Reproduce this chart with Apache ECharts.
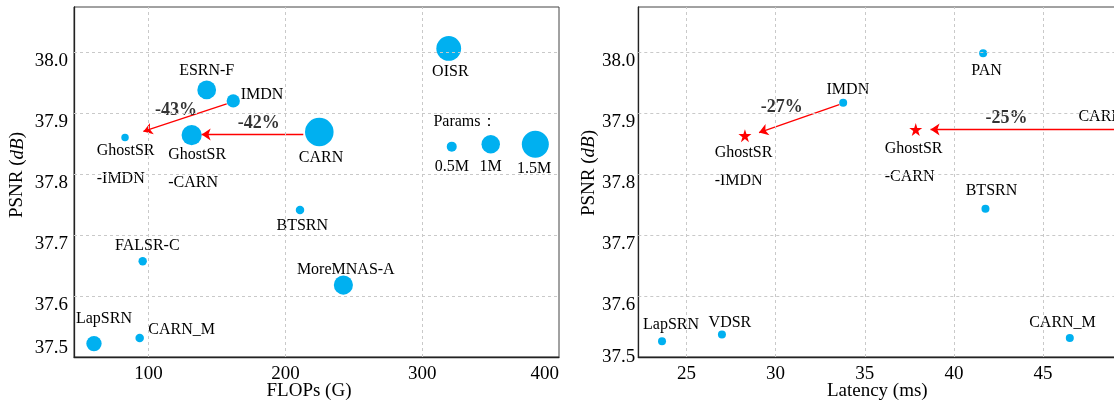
<!DOCTYPE html>
<html>
<head>
<meta charset="utf-8">
<script src="https://cdn.jsdelivr.net/npm/echarts@6/dist/echarts.min.js"></script>
<style>
html, body { margin: 0; padding: 0; background: #fff; }
#chart { width: 1114px; height: 402px; }
</style>
</head>
<body>
<div id="chart"></div>
<script>
// ---- Left panel: PSNR against FLOPs, bubble size = parameters (M) ----
const flopsNames = ['LapSRN', 'CARN_M', 'FALSR-C', 'BTSRN', 'MoreMNAS-A', 'CARN', 'IMDN', 'ESRN-F', 'OISR', 'GhostSR\n-IMDN', 'GhostSR\n-CARN'];
const flopsG = [60.1, 93.5, 95.7, 210.7, 242.4, 224.8, 161.9, 142.5, 319.4, 82.8, 131.5];
const flopsPsnr = [37.522, 37.531, 37.657, 37.741, 37.618, 37.869, 37.920, 37.938, 38.006, 37.860, 37.864];
const paramsM = [0.813, 0.412, 0.408, 0.410, 1.039, 1.592, 0.694, 1.014, 1.37, 0.35, 1.1];

// bubble-size key
const keyNames = ['0.5M', '1M', '1.5M'];
const keyParams = [0.5, 1, 1.5];
const keyFlops = [321.6, 350.1, 382.7];
const keyPsnr = [37.845, 37.849, 37.849];
const keyTitle = 'Params：';
const keyTitleAt = [308.2, 37.886];

// ---- Right panel: PSNR against latency ----
const latNames = ['LapSRN', 'VDSR', 'CARN_M', 'BTSRN', 'PAN', 'IMDN', 'CARN'];
const latencyMs = [23.63, 26.99, 46.5, 41.77, 41.64, 33.79, 49.8];
const latPsnr = [37.526, 37.537, 37.531, 37.743, 37.998, 37.917, 37.87];
const ghostNames = ['GhostSR\n-IMDN', 'GhostSR\n-CARN'];
const ghostLatency = [28.28, 37.86];
const ghostPsnr = [37.863, 37.873];

// ---- Axis ticks ----
const flopsTicks = [100, 200, 300, 400];
const latencyTicks = [25, 30, 35, 40, 45];
const psnrTicks = [37.5, 37.6, 37.7, 37.8, 37.9, 38.0];

// ---- Reduction annotations (text + arrow, data units) ----
const flopsCuts = ['-43%', '-42%'];
const flopsCutAt = [[120.0, 37.905], [180.6, 37.883]];
const flopsArrowFrom = [[157.1, 37.915], [213.1, 37.865]];
const flopsArrowTo = [[96.2, 37.870], [138.8, 37.865]];
const latCuts = ['-27%', '-25%'];
const latCutAt = [[30.35, 37.909], [42.95, 37.891]];
const latArrowFrom = [[33.57, 37.914], [49.4, 37.873]];
const latArrowTo = [[29.07, 37.868], [38.69, 37.873]];

// ---- Label placement (pixel offset from marker centre, anchor) ----
const flopsLabelOffset = [[10, -25], [8.6, -8.7], [4.6, -15.3], [2.3, 15.3], [2.4, -15.3], [1.7, 25.6], [7.4, -6.4], [0, -19], [1.6, 23.4], [-28.3, -0.6], [-23.4, 5.3]];
const flopsLabelAnchor = ['c', 'l', 'c', 'c', 'c', 'c', 'l', 'c', 'c', 'lt', 'lt'];
const keyLabelOffset = [[0, 20], [0, 22.7], [-1.3, 25]];
const latLabelOffset = [[9, -16.3], [8, -11.4], [-7.3, -15.3], [6, -18.3], [3.4, 17], [4.7, -12.7], [-28, -14.6]];
const ghostLabelOffset = [[-30.3, 3], [-31, 5.5]];

const FONT = 'Liberation Serif';
const BLUE = '#00b0f0';
const RED = '#ff0000';
const STAR = 'path://M50,0 L61.2,34.5 L97.6,34.5 L68.2,55.9 L79.4,90.5 L50,69.1 L20.6,90.5 L31.8,55.9 L2.4,34.5 L38.8,34.5 Z';

function bubbleSize(p) { return 17 * p + 1.5; }

function placeLabel(off, anchor) {
  return {
    offset: off,
    align: anchor === 'c' ? 'center' : 'left',
    verticalAlign: anchor === 'lt' ? 'top' : 'middle'
  };
}

const pointLabel = {
  show: true, position: 'inside', formatter: '{b}',
  color: '#000', fontFamily: FONT, fontSize: 16, lineHeight: 28
};

function gridLines(xTicks, yTicks, xi) {
  return {
    type: 'scatter', xAxisIndex: xi, yAxisIndex: xi, data: [], silent: true, z: 1,
    markLine: {
      silent: true, animation: false, symbol: ['none', 'none'],
      label: { show: false },
      lineStyle: { color: '#c9c9c9', type: [3, 3], width: 1 },
      data: xTicks.map(v => ({ xAxis: v })).concat(yTicks.map(v => ({ yAxis: v })))
    }
  };
}

function noteTexts(texts, at, xi) {
  return {
    type: 'scatter', xAxisIndex: xi, yAxisIndex: xi, silent: true, clip: false, z: 4,
    symbol: 'circle', symbolSize: 1,
    itemStyle: { color: 'rgba(0,0,0,0)' },
    label: {
      show: true, position: 'inside', formatter: '{b}', color: '#000',
      fontFamily: FONT, fontSize: 18, fontWeight: 'bold'
    },
    data: texts.map((t, i) => ({ name: t, value: at[i] }))
  };
}

function noteArrows(from, to, xi) {
  return {
    type: 'lines', coordinateSystem: 'cartesian2d', xAxisIndex: xi, yAxisIndex: xi,
    silent: true, z: 4,
    symbol: ['none', 'arrow'], symbolSize: [8, 9],
    lineStyle: { color: RED, width: 1.3, opacity: 1, curveness: 0 },
    data: from.map((f, i) => ({ coords: [f, to[i]] }))
  };
}

function xAxisCfg(gi, min, max, ticks, name, namePad, alignMax) {
  return {
    type: 'value', gridIndex: gi, min: min, max: max,
    name: name, nameLocation: 'middle', nameGap: 25, nameMoveOverlap: false,
    nameTextStyle: { fontFamily: FONT, fontSize: 19, color: '#000', padding: namePad },
    axisLine: { show: true, onZero: false, lineStyle: { color: '#222', width: 1.3 } },
    axisTick: { show: false },
    splitLine: { show: false },
    axisLabel: {
      customValues: ticks, margin: 8, fontFamily: FONT, fontSize: 19, color: '#000',
      alignMaxLabel: alignMax
    }
  };
}

function yAxisCfg(gi, nameGap, namePad, margin, minAlign) {
  return {
    type: 'value', gridIndex: gi, min: 37.5, max: 38.074,
    name: 'PSNR ({i|dB})', nameLocation: 'middle', nameGap: nameGap, nameMoveOverlap: false,
    nameTextStyle: {
      fontFamily: FONT, fontSize: 19, color: '#000', padding: namePad,
      rich: { i: { fontFamily: FONT, fontSize: 19, fontStyle: 'italic', color: '#000' } }
    },
    axisLine: { show: true, onZero: false, lineStyle: { color: '#222', width: 1.3 } },
    axisTick: { show: false },
    splitLine: { show: false },
    axisLabel: {
      customValues: psnrTicks, formatter: v => v.toFixed(1),
      margin: margin, fontFamily: FONT, fontSize: 19, color: '#000',
      lineHeight: 17, verticalAlign: 'top',
      verticalAlignMinLabel: minAlign
    }
  };
}

const option = {
  animation: false,
  backgroundColor: '#fff',
  grid: [
    { left: 74, top: 7, width: 485, height: 350, outerBoundsMode: 'none', containLabel: false,
      show: true, borderColor: '#444', borderWidth: 1 },
    { left: 638.3, top: 7, width: 485, height: 350, outerBoundsMode: 'none', containLabel: false,
      show: true, borderColor: '#444', borderWidth: 1 }
  ],
  xAxis: [
    xAxisCfg(0, 45.5, 400, flopsTicks, 'FLOPs (G)', [0, 15, 0, 0], 'right'),
    xAxisCfg(1, 22.3, 49.5, latencyTicks, 'Latency (ms)', [0, 7, 0, 0], null)
  ],
  yAxis: [
    yAxisCfg(0, 47, [0, 0, 0, 14], 6, 'bottom'),
    yAxisCfg(1, 40, [0, 0, 0, 18], 3, 'middle')
  ],
  series: [
    gridLines(flopsTicks.filter(v => v < 400), psnrTicks.filter(v => v > 37.5), 0),
    {
      type: 'scatter', xAxisIndex: 0, yAxisIndex: 0, silent: true, z: 3,
      symbolSize: v => bubbleSize(v[2]),
      itemStyle: { color: BLUE, opacity: 1 },
      label: pointLabel,
      data: flopsNames.map((n, i) => ({
        name: n, value: [flopsG[i], flopsPsnr[i], paramsM[i]],
        label: placeLabel(flopsLabelOffset[i], flopsLabelAnchor[i])
      }))
    },
    {
      type: 'scatter', xAxisIndex: 0, yAxisIndex: 0, silent: true, z: 3,
      symbolSize: v => bubbleSize(v[2]),
      itemStyle: { color: BLUE, opacity: 1 },
      label: pointLabel,
      data: keyNames.map((n, i) => ({
        name: n, value: [keyFlops[i], keyPsnr[i], keyParams[i]],
        label: placeLabel(keyLabelOffset[i], 'c')
      })).concat([{
        name: keyTitle, value: [keyTitleAt[0], keyTitleAt[1], 0],
        symbolSize: 1, itemStyle: { color: 'rgba(0,0,0,0)' },
        label: placeLabel([0, 0], 'l')
      }])
    },
    noteTexts(flopsCuts, flopsCutAt, 0),
    noteArrows(flopsArrowFrom, flopsArrowTo, 0),

    gridLines(latencyTicks, psnrTicks.filter(v => v > 37.5), 1),
    {
      type: 'scatter', xAxisIndex: 1, yAxisIndex: 1, silent: true, clip: false, z: 3,
      symbolSize: 8,
      itemStyle: { color: BLUE, opacity: 1 },
      label: pointLabel,
      data: latNames.map((n, i) => ({
        name: n, value: [latencyMs[i], latPsnr[i]],
        label: placeLabel(latLabelOffset[i], 'c')
      }))
    },
    {
      type: 'scatter', xAxisIndex: 1, yAxisIndex: 1, silent: true, z: 3,
      symbol: STAR, symbolSize: 13,
      itemStyle: { color: RED, opacity: 1 },
      label: pointLabel,
      data: ghostNames.map((n, i) => ({
        name: n, value: [ghostLatency[i], ghostPsnr[i]],
        label: placeLabel(ghostLabelOffset[i], 'lt')
      }))
    },
    noteTexts(latCuts, latCutAt, 1),
    noteArrows(latArrowFrom, latArrowTo, 1)
  ]
};

const chart = echarts.init(document.getElementById('chart'), null, { renderer: 'canvas' });
chart.setOption(option);
</script>
</body>
</html>
